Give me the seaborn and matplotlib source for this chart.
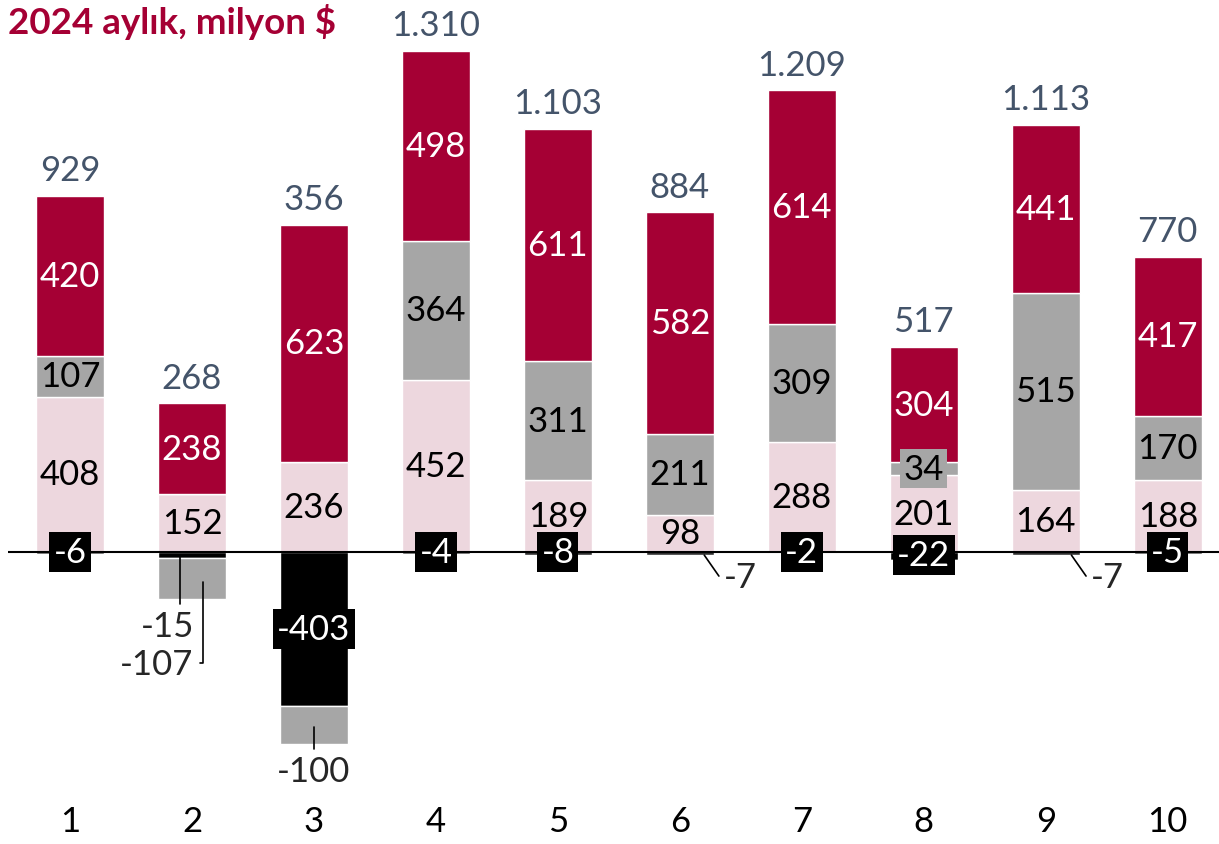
import numpy as np
import pandas as pd
import matplotlib.pyplot as plt
import seaborn as sns

months = ['1', '2', '3', '4', '5', '6', '7', '8', '9', '10']
pink_vals = [408, 152, 236, 452, 189, 98, 288, 201, 164, 188]
gray_vals = [107, -107, -100, 364, 311, 211, 309, 34, 515, 170]
red_vals = [420, 238, 623, 498, 611, 582, 614, 304, 441, 417]
black_vals = [-6, -15, -403, -4, -8, -7, -2, -22, -7, -5]

RED = '#A50034'
GRAY = '#A6A6A6'
PINK = '#EDD7DE'
BLACK = '#000000'
SLATE = '#44546A'

sns.set_theme(style='white')
plt.rcParams['font.family'] = ['Lato', 'DejaVu Sans']

df = pd.DataFrame({'month': months, 'pink': pink_vals, 'gray': gray_vals,
                   'red': red_vals, 'black': black_vals})
df['gray_pos'] = df['gray'].clip(lower=0)
df['gray_neg'] = df['gray'].clip(upper=0)
df['total'] = df[['pink', 'gray', 'red', 'black']].sum(axis=1)

fig = plt.figure(figsize=(12.19, 8.45), dpi=100)
ax = fig.add_axes([8 / 1219, 0, 1 - 8 / 1219, 1])

bw = 0.556
common = dict(x='month', data=df, width=bw, saturation=1, edgecolor='white', linewidth=1, ax=ax)
# positive stack
sns.barplot(y='pink', color=PINK, **common)
sns.barplot(y='gray_pos', color=GRAY, bottom=df['pink'].values, **common)
sns.barplot(y='red', color=RED, bottom=(df['pink'] + df['gray_pos']).values, **common)
# negative stack
sns.barplot(y='black', color=BLACK, **common)
sns.barplot(y='gray_neg', color=GRAY, bottom=df['black'].values, **common)

ax.axhline(0, color='black', lw=1.5, zorder=5)
ax.set_xlim(-0.508, 9.42)
ax.set_ylim(-766, 1451)
ax.axis('off')

fs = 25
fmt = lambda v: f'{v:,}'.replace(',', '.')

for i, r in df.iterrows():
    ax.text(i, r['pink'] / 2, fmt(r['pink']), ha='center', va='center', fontsize=fs, color='black')
    if r['gray'] > 0:
        box = dict(boxstyle='square,pad=0.1', fc=GRAY, ec='none') if r['gray'] < 60 else None
        ax.text(i, r['pink'] + r['gray'] / 2, fmt(r['gray']), ha='center', va='center',
                fontsize=fs, color='black', bbox=box)
    ax.text(i, r['pink'] + r['gray_pos'] + r['red'] / 2, fmt(r['red']), ha='center', va='center',
            fontsize=fs, color='white')
    top = r['pink'] + r['gray_pos'] + r['red']
    ax.annotate(fmt(r['total']), (i, top), xytext=(0, 7), textcoords='offset points',
                ha='center', va='bottom', fontsize=fs, color=SLATE)

# black boxed labels for small negatives
for i in [0, 3, 4, 6, 7, 9]:
    y = -8 if i == 7 else 0
    ax.text(i, y, fmt(black_vals[i]), ha='center', va='center', fontsize=fs, color='white',
            zorder=6, bbox=dict(boxstyle='square,pad=0.12', fc=BLACK, ec='none'))
ax.text(2, black_vals[2] / 2, fmt(black_vals[2]), ha='center', va='center', fontsize=fs,
        color='white', zorder=6, bbox=dict(boxstyle='square,pad=0.12', fc=BLACK, ec='none'))

# leader-line labels
lk = dict(color='black', lw=1.2, zorder=6)
ax.plot([0.90, 0.90], [-8, -136], **lk)
ax.text(0.80, -194, fmt(black_vals[1]), ha='center', va='center', fontsize=fs)
ax.plot([1.09, 1.09, 1.065], [-79, -291, -291], **lk)
ax.text(0.71, -294, fmt(gray_vals[1]), ha='center', va='center', fontsize=fs)
ax.plot([2.0, 2.0], [-459, -517], **lk)
ax.text(2.0, -575, fmt(gray_vals[2]), ha='center', va='center', fontsize=fs)
for i, x0 in [(5, 5.20), (8, 8.21)]:
    ax.plot([x0, x0 + 0.12], [-8, -63], **lk)
    ax.text(x0 + 0.16, -66, fmt(black_vals[i]), ha='left', va='center', fontsize=fs)

for i, m in enumerate(months):
    ax.text(i, -706, m, ha='center', va='center', fontsize=fs, color='black')

fig.text(8 / 1219, 1 - 4 / 845, '2024 aylık, milyon $', ha='left', va='top',
         fontsize=26.5, fontweight='bold', color=RED)

fig.savefig('out.png', dpi=100)
